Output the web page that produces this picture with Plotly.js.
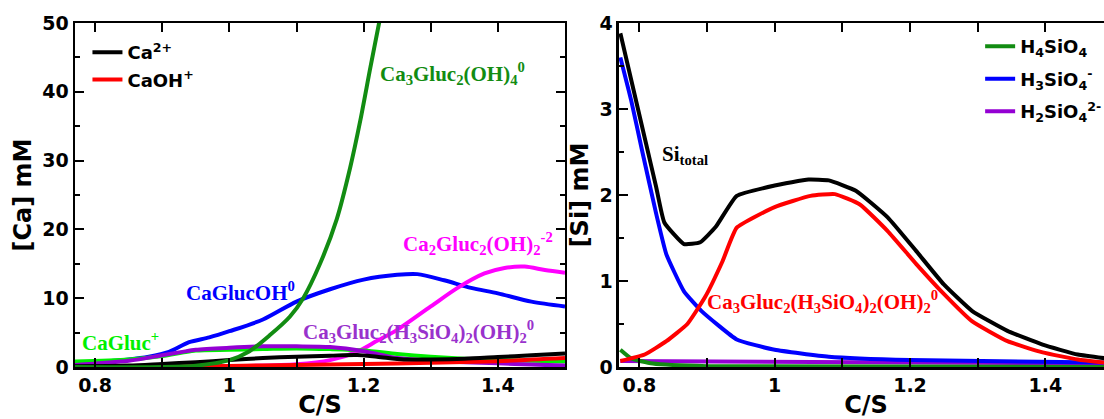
<!DOCTYPE html>
<html>
<head>
<meta charset="utf-8">
<script src="https://cdn.plot.ly/plotly-3.0.1.min.js"></script>
<style>
html,body{margin:0;padding:0;background:#fff;overflow:hidden;width:1104px;height:419px;}
#chart{width:1120px;height:419px;}
</style>
</head>
<body>
<div id="chart"></div>
<script>
// ---------- Left panel: [Ca] mM vs C/S ----------
const caX = [0.77, 0.80, 0.85, 0.88, 0.91, 0.94, 0.97, 1.00, 1.05, 1.10, 1.15, 1.20, 1.25, 1.28, 1.32, 1.36, 1.40, 1.45, 1.50];
const caGlucOH = [0.5, 0.7, 1.1, 1.5, 2.2, 3.6, 4.3, 5.2, 6.9, 9.5, 11.3, 12.7, 13.4, 13.5, 12.6, 11.5, 10.7, 9.5, 8.8];

const ca2GlucX = [0.77, 0.90, 1.00, 1.10, 1.15, 1.19, 1.22, 1.25, 1.30, 1.34, 1.38, 1.41, 1.44, 1.47, 1.50];
const ca2Gluc2OH2 = [0.0, 0.0, 0.1, 0.4, 1.0, 2.2, 3.8, 5.4, 8.8, 11.5, 13.6, 14.4, 14.6, 14.1, 13.7];

const ca3GlucX = [0.77, 0.90, 0.95, 1.00, 1.03, 1.06, 1.09, 1.11, 1.135, 1.16, 1.18, 1.195, 1.21, 1.223, 1.235];
const ca3Gluc2OH4 = [0.0, 0.0, 0.2, 1.0, 2.3, 4.6, 7.3, 10.0, 15.0, 21.5, 29.0, 35.8, 43.5, 50.0, 56.0];

const smallX = [0.77, 0.85, 0.90, 0.93, 0.95, 1.00, 1.05, 1.10, 1.15, 1.20, 1.25, 1.30, 1.35, 1.40, 1.45, 1.50];
const caGluc = [0.8, 1.1, 1.6, 2.1, 2.4, 2.5, 2.6, 2.7, 2.6, 2.4, 1.9, 1.5, 1.2, 1.0, 0.9, 0.8];
const ca3GlucSi = [0.3, 0.9, 1.7, 2.2, 2.5, 2.8, 3.0, 3.0, 2.9, 2.3, 1.3, 0.9, 0.7, 0.55, 0.35, 0.2];

const ca2pX = [0.77, 0.85, 0.90, 0.95, 1.00, 1.05, 1.10, 1.15, 1.19, 1.22, 1.26, 1.30, 1.35, 1.40, 1.45, 1.50];
const ca2p = [0.1, 0.2, 0.45, 0.7, 1.0, 1.3, 1.5, 1.65, 1.75, 1.5, 1.1, 1.1, 1.2, 1.45, 1.7, 1.95];

const caOHX = [0.77, 0.90, 1.00, 1.10, 1.20, 1.30, 1.40, 1.50];
const caOH = [0.0, 0.05, 0.15, 0.3, 0.45, 0.6, 0.85, 1.3];

// ---------- Right panel: [Si] mM vs C/S ----------
const siTotX = [0.772, 0.788, 0.809, 0.825, 0.837, 0.866, 0.890, 0.913, 0.944, 1.00, 1.05, 1.08, 1.12, 1.167, 1.209, 1.25, 1.292, 1.344, 1.396, 1.448, 1.50];
const siTotal = [3.88, 3.34, 2.63, 2.09, 1.68, 1.43, 1.45, 1.63, 1.99, 2.11, 2.18, 2.17, 2.05, 1.74, 1.35, 0.96, 0.65, 0.42, 0.26, 0.145, 0.09];

const siCplxX = [0.772, 0.808, 0.84, 0.871, 0.897, 0.923, 0.944, 1.00, 1.053, 1.089, 1.126, 1.167, 1.209, 1.25, 1.292, 1.344, 1.396, 1.448, 1.50];
const siCplx = [0.07, 0.145, 0.30, 0.5, 0.81, 1.23, 1.62, 1.86, 1.99, 2.01, 1.89, 1.58, 1.2, 0.85, 0.53, 0.30, 0.17, 0.087, 0.04];

const h3sio4X = [0.772, 0.788, 0.804, 0.825, 0.84, 0.866, 0.892, 0.944, 1.00, 1.08, 1.20, 1.50];
const h3sio4 = [3.6, 3.1, 2.52, 1.78, 1.31, 0.88, 0.65, 0.32, 0.2, 0.12, 0.08, 0.05];

const h4sio4X = [0.772, 0.788, 0.82, 0.90, 1.50];
const h4sio4 = [0.2, 0.1, 0.04, 0.01, 0.0];

const h2sio4X = [0.772, 1.00, 1.50];
const h2sio4 = [0.07, 0.06, 0.04];

// ---------- tick labels ----------
const xTicks = [0.8, 1.0, 1.2, 1.4];
const xTickText = ['0.8', '1', '1.2', '1.4'];
const caTicks = [0, 10, 20, 30, 40, 50];
const siTicks = [0, 1, 2, 3, 4];

const C = {
  black: '#000000', red: '#ff0000', dgreen: '#128c12', lgreen: '#00f000',
  blue: '#0000ff', magenta: '#ff00ff', purple: '#9400d3', purpleText: '#9932cc'
};
const LW = 4;

function tr(x, y, color, name, xa, ya, legend, shape, smooth) {
  return {x: x, y: y, type: 'scatter', mode: 'lines', name: name,
    line: {color: color, width: LW, shape: shape || 'linear', smoothing: smooth || 1},
    xaxis: xa, yaxis: ya, showlegend: false, legend: legend, hoverinfo: 'skip'};
}
function legItem(name, color, xa, ya, legend, group) {
  return {x: [null], y: [null], type: 'scatter', mode: 'lines', name: name,
    line: {color: color, width: LW}, xaxis: xa, yaxis: ya, legend: legend,
    legendgroup: group, showlegend: true, hoverinfo: 'skip'};
}

const data = [
  tr(caX, caGlucOH, C.blue, 'CaGlucOH', 'x', 'y', 'legend', 'spline', 0.8),
  tr(ca2GlucX, ca2Gluc2OH2, C.magenta, 'Ca2Gluc2(OH)2', 'x', 'y', 'legend', 'spline', 0.8),
  tr(smallX, caGluc, C.lgreen, 'CaGluc+', 'x', 'y', 'legend', 'spline', 0.8),
  tr(smallX, ca3GlucSi, C.purple, 'Ca3Gluc2(H3SiO4)2(OH)2', 'x', 'y', 'legend', 'spline', 0.8),
  tr(caOHX, caOH, C.red, 'CaOH+', 'x', 'y', 'legend', 'spline', 0.8),
  tr(ca2pX, ca2p, C.black, 'Ca2+', 'x', 'y', 'legend', 'spline', 0.8),
  tr(ca3GlucX, ca3Gluc2OH4, C.dgreen, 'Ca3Gluc2(OH)4', 'x', 'y', 'legend', 'spline', 0.8),
  legItem('Ca<sup>2+</sup>', C.black, 'x', 'y', 'legend', 'a1'),
  legItem('CaOH<sup>+</sup>', C.red, 'x', 'y', 'legend', 'a2'),

  tr(h2sio4X, h2sio4, C.purple, 'H2SiO4 2-', 'x2', 'y2', 'legend2'),
  tr(h4sio4X, h4sio4, C.dgreen, 'H4SiO4', 'x2', 'y2', 'legend2', 'spline', 0.5),
  tr(h3sio4X, h3sio4, C.blue, 'H3SiO4-', 'x2', 'y2', 'legend2', 'spline', 0.4),
  tr(siCplxX, siCplx, C.red, 'complex', 'x2', 'y2', 'legend2', 'spline', 0.4),
  tr(siTotX, siTotal, C.black, 'Si total', 'x2', 'y2', 'legend2', 'spline', 0.4),
  legItem('H<sub>4</sub>SiO<sub>4</sub>', C.dgreen, 'x2', 'y2', 'legend2', 'b1'),
  legItem('H<sub>3</sub>SiO<sub>4</sub><sup>-</sup>', C.blue, 'x2', 'y2', 'legend2', 'b2'),
  legItem('H<sub>2</sub>SiO<sub>4</sub><sup>2-</sup>', C.purple, 'x2', 'y2', 'legend2', 'b3')
];

const sansBold = {family: 'DejaVu Sans', size: 19, color: '#000', weight: 700};
const titleFont = {family: 'DejaVu Sans', size: 24, color: '#000', weight: 700};

function xAxis(domain, anchor) {
  return {
    domain: domain, anchor: anchor, range: [0.77, 1.5], fixedrange: true,
    tickmode: 'array', tickvals: xTicks, ticktext: xTickText,
    ticks: 'inside', ticklen: 9, tickwidth: 2, tickcolor: '#000',
    minor: {dtick: 0.1, tick0: 0.8, ticks: 'inside', ticklen: 9, tickwidth: 2, tickcolor: '#000'},
    showline: true, linewidth: 2.5, linecolor: '#000', mirror: 'allticks',
    showgrid: false, zeroline: false, tickfont: sansBold,
    title: {text: 'C/S', font: titleFont, standoff: 6}
  };
}
function yAxis(anchor, range, ticks, minorDt, title) {
  return {
    anchor: anchor, domain: [0, 1], range: range, fixedrange: true,
    tickmode: 'array', tickvals: ticks,
    ticks: 'inside', ticklen: 9, tickwidth: 2, tickcolor: '#000',
    minor: {dtick: minorDt, tick0: 0, ticks: 'inside', ticklen: 5, tickwidth: 2, tickcolor: '#000'},
    showline: true, linewidth: 2.5, linecolor: '#000', mirror: 'allticks',
    showgrid: false, zeroline: false, tickfont: sansBold,
    title: {text: title, font: titleFont, standoff: 4}
  };
}

const serif = (size, color) => ({family: 'Liberation Serif', size: size, color: color, weight: 700});
function ann(xref, yref, x, y, text, color) {
  return {xref: xref, yref: yref, x: x, y: y, text: text, showarrow: false,
    xanchor: 'left', yanchor: 'middle', font: serif(21, color)};
}

const annotations = [
  ann('x', 'y', 1.222, 42.6, 'Ca<sub>3</sub>Gluc<sub>2</sub>(OH)<sub>4</sub><sup>0</sup>', C.dgreen),
  ann('x', 'y', 1.255, 18.0, 'Ca<sub>2</sub>Gluc<sub>2</sub>(OH)<sub>2</sub><sup>-2</sup>', C.magenta),
  ann('x', 'y', 0.932, 11.0, 'CaGlucOH<sup>0</sup>', C.blue),
  ann('x', 'y', 1.106, 5.2, 'Ca<sub>3</sub>Gluc<sub>2</sub>(H<sub>3</sub>SiO<sub>4</sub>)<sub>2</sub>(OH)<sub>2</sub><sup>0</sup>', C.purpleText),
  ann('x', 'y', 0.778, 3.7, 'CaGluc<sup>+</sup>', C.lgreen),
  ann('x2', 'y2', 0.831, 2.46, 'Si<sub>total</sub>', C.black),
  ann('x2', 'y2', 0.897, 0.76, 'Ca<sub>3</sub>Gluc<sub>2</sub>(H<sub>3</sub>SiO<sub>4</sub>)<sub>2</sub>(OH)<sub>2</sub><sup>0</sup>', C.red)
];

const legendFont = {family: 'DejaVu Sans', size: 18, color: '#000', weight: 700};

const layout = {
  width: 1120, height: 419,
  margin: {l: 75, r: 7, t: 23, b: 52},
  paper_bgcolor: '#fff', plot_bgcolor: '#fff',
  xaxis: xAxis([0, 0.47206], 'y'),
  yaxis: yAxis('x', [0, 50], caTicks, 5, '[Ca] mM'),
  xaxis2: xAxis([0.52408, 1], 'y2'),
  yaxis2: yAxis('x2', [0, 4], siTicks, 0.5, '[Si] mM'),
  legend: {x: 0.012, y: 0.968, xanchor: 'left', yanchor: 'top', bgcolor: 'rgba(0,0,0,0)',
    borderwidth: 0, font: legendFont, itemwidth: 30, tracegroupgap: 1},
  legend2: {x: 0.872, y: 0.985, xanchor: 'left', yanchor: 'top', bgcolor: 'rgba(0,0,0,0)',
    borderwidth: 0, font: legendFont, itemwidth: 30, tracegroupgap: 6},
  annotations: annotations,
  showlegend: true
};

Plotly.newPlot('chart', data, layout, {staticPlot: true, displayModeBar: false});
</script>
</body>
</html>
